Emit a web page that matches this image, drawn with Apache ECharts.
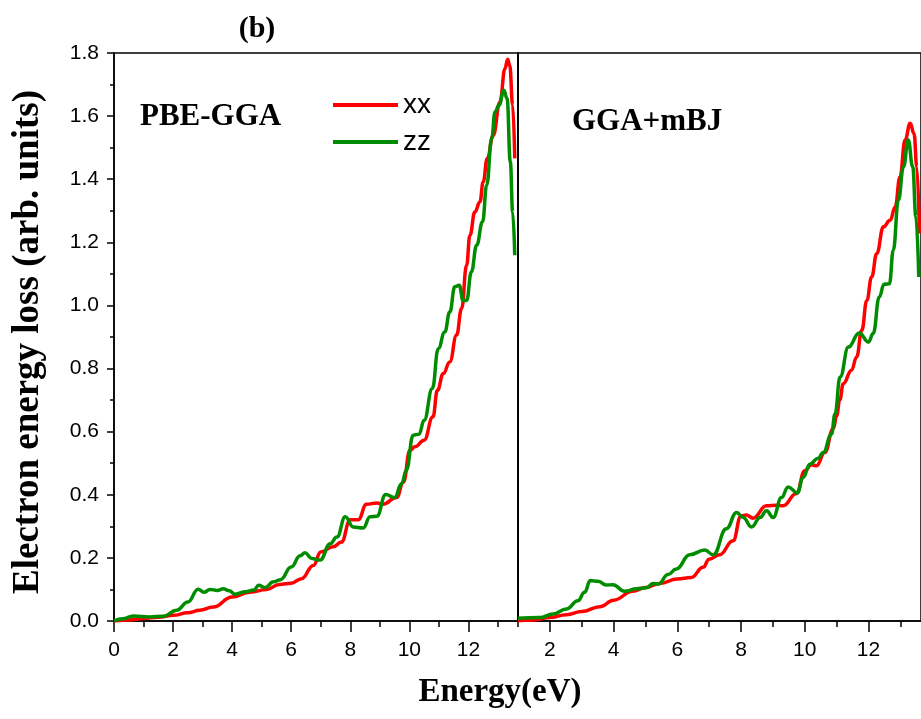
<!DOCTYPE html>
<html>
<head>
<meta charset="utf-8">
<script src="https://cdn.jsdelivr.net/npm/echarts@6/dist/echarts.min.js"></script>
<style>
  html, body { margin: 0; padding: 0; background: #fff; }
  #chart { width: 921px; height: 719px; }
</style>
</head>
<body>
<div id="chart"></div>
<script>
const SERIF = "'Liberation Serif', 'Times New Roman', serif"
const SANS = "'Liberation Sans', Arial, sans-serif"

// PBE-GGA panel (left)
const pbeXxE = [0, 0.5, 1, 1.5, 2, 2.5, 2.9, 3.36, 4, 4.6, 5.17, 5.6, 6, 6.35, 6.75, 7.0, 7.42, 7.7, 8.0, 8.27, 8.55, 8.9, 9.1, 9.57, 9.8, 10.02, 10.19, 10.5, 10.8, 10.95, 11.15, 11.37, 11.6, 11.77, 11.94, 12.05, 12.22, 12.39, 12.5, 12.64, 12.84, 13.07, 13.24, 13.33, 13.4, 13.5, 13.57]
const pbeXxV = [0, 0.003, 0.008, 0.012, 0.018, 0.026, 0.034, 0.044, 0.076, 0.091, 0.1, 0.116, 0.12, 0.134, 0.176, 0.219, 0.235, 0.25, 0.321, 0.321, 0.37, 0.374, 0.37, 0.391, 0.44, 0.541, 0.552, 0.573, 0.647, 0.731, 0.784, 0.821, 0.906, 0.99, 1.127, 1.222, 1.296, 1.328, 1.391, 1.466, 1.539, 1.645, 1.751, 1.78, 1.761, 1.635, 1.466]
const pbeZzE = [0, 0.3, 0.65, 1.2, 1.67, 2.12, 2.5, 2.85, 3.05, 3.25, 3.5, 3.7, 3.9, 4.1, 4.45, 4.74, 4.9, 5.12, 5.4, 5.64, 6.0, 6.3, 6.47, 6.7, 6.98, 7.32, 7.55, 7.83, 8.1, 8.44, 8.67, 8.9, 9.2, 9.5, 9.74, 9.9, 10.13, 10.33, 10.5, 10.78, 10.98, 11.2, 11.37, 11.54, 11.69, 11.82, 11.94, 12.1, 12.28, 12.48, 12.62, 12.79, 12.9, 13.04, 13.2, 13.31, 13.42, 13.5, 13.57]
const pbeZzV = [0, 0.007, 0.016, 0.013, 0.015, 0.034, 0.06, 0.101, 0.091, 0.1, 0.097, 0.102, 0.096, 0.085, 0.093, 0.098, 0.113, 0.106, 0.124, 0.131, 0.171, 0.207, 0.216, 0.198, 0.193, 0.245, 0.266, 0.33, 0.298, 0.295, 0.33, 0.332, 0.401, 0.391, 0.435, 0.478, 0.589, 0.592, 0.636, 0.737, 0.863, 0.916, 0.979, 1.059, 1.064, 1.016, 1.016, 1.106, 1.191, 1.265, 1.381, 1.529, 1.613, 1.635, 1.682, 1.656, 1.455, 1.296, 1.159]

// GGA+mBJ panel (right)
const mbjXxE = [1, 1.47, 2, 2.52, 3, 3.57, 4, 4.6, 5, 5.45, 6, 6.44, 6.81, 7.0, 7.33, 7.75, 8.0, 8.17, 8.38, 8.8, 9.12, 9.32, 9.74, 10.0, 10.21, 10.37, 10.63, 10.9, 11.0, 11.1, 11.21, 11.47, 11.63, 11.79, 11.95, 12.1, 12.26, 12.47, 12.68, 12.84, 12.99, 13.15, 13.31, 13.43, 13.52, 13.6]
const mbjXxV = [0.001, 0.003, 0.011, 0.02, 0.03, 0.045, 0.066, 0.094, 0.106, 0.119, 0.133, 0.138, 0.17, 0.196, 0.21, 0.254, 0.333, 0.336, 0.326, 0.365, 0.367, 0.365, 0.404, 0.476, 0.495, 0.492, 0.534, 0.61, 0.65, 0.7, 0.752, 0.795, 0.837, 0.921, 1.016, 1.09, 1.164, 1.249, 1.27, 1.312, 1.407, 1.524, 1.577, 1.545, 1.439, 1.228]
const mbjZzE = [1, 1.68, 2.1, 2.52, 2.88, 3.09, 3.27, 3.51, 3.77, 3.98, 4.35, 4.72, 5.03, 5.24, 5.4, 5.71, 5.97, 6.39, 6.86, 7.13, 7.54, 7.86, 8.07, 8.33, 8.6, 8.8, 9.01, 9.27, 9.48, 9.77, 9.95, 10.16, 10.42, 10.58, 10.84, 10.95, 11.11, 11.37, 11.71, 12.0, 12.15, 12.34, 12.49, 12.66, 12.78, 12.94, 13.1, 13.25, 13.39, 13.49, 13.58]
const mbjZzV = [0.009, 0.011, 0.022, 0.038, 0.064, 0.091, 0.128, 0.126, 0.114, 0.115, 0.094, 0.102, 0.105, 0.119, 0.117, 0.147, 0.165, 0.21, 0.225, 0.21, 0.292, 0.344, 0.328, 0.298, 0.328, 0.349, 0.328, 0.391, 0.425, 0.406, 0.455, 0.497, 0.516, 0.534, 0.592, 0.656, 0.773, 0.868, 0.913, 0.884, 0.911, 1.027, 1.067, 1.069, 1.175, 1.333, 1.439, 1.524, 1.439, 1.281, 1.09]

const majorTicks = [0, 2, 4, 6, 8, 10, 12]
const minorTicksLeft = [1, 3, 5, 7, 9, 11, 13]
const majorTicksRight = [2, 4, 6, 8, 10, 12]
const minorTicksRight = [1, 3, 5, 7, 9, 11, 13]

const pair = (xs, ys) => xs.map((x, i) => [x, ys[i]])

function xAxisFor(grid, min, max, ticks, labels, len, showLine) {
  return {
    type: 'value', gridIndex: grid, min, max, position: 'bottom',
    axisLine: { show: showLine, onZero: false, lineStyle: { color: '#000', width: 1.5 } },
    axisTick: { show: true, inside: false, length: len, customValues: ticks, lineStyle: { color: '#000', width: 1.5 } },
    axisLabel: labels
      ? { show: true, customValues: ticks, margin: 19, color: '#000', fontSize: 21, fontFamily: SANS }
      : { show: false },
    splitLine: { show: false },
  }
}

function lineSeries(name, color, data, axis) {
  return {
    name, type: 'line', data,
    xAxisIndex: axis, yAxisIndex: axis,
    showSymbol: false, symbol: 'none',
    smooth: 0.45, smoothMonotone: 'x',
    color,
    lineStyle: { color, width: 3.5 },
    z: name === 'zz' ? 3 : 2,
  }
}

const chart = echarts.init(document.getElementById('chart'), null, { renderer: 'canvas' })

chart.setOption({
  backgroundColor: '#fff',
  animation: false,
  grid: [
    { left: 114, top: 53, width: 404, height: 568, show: true, borderColor: '#000', borderWidth: 1.5 },
    { left: 518, top: 53, width: 405, height: 568, show: true, borderColor: '#000', borderWidth: 1.5 },
  ],
  legend: {
    orient: 'vertical', left: 328, top: 86,
    itemWidth: 65, itemHeight: 4, itemGap: 9,
    icon: 'rect',
    textStyle: { fontSize: 28, fontFamily: SANS, color: '#000' },
    data: ['xx', 'zz'],
  },
  xAxis: [
    xAxisFor(0, 0, 13.68, majorTicks, true, 11, true),
    xAxisFor(0, 0, 13.68, minorTicksLeft, false, 6, false),
    xAxisFor(1, 1, 13.65, majorTicksRight, true, 11, true),
    xAxisFor(1, 1, 13.65, minorTicksRight, false, 6, false),
  ],
  yAxis: [
    {
      type: 'value', gridIndex: 0, min: 0, max: 1.8, interval: 0.2,
      axisLine: { show: true, lineStyle: { color: '#000', width: 1.5 } },
      axisTick: { show: true, length: 7, lineStyle: { color: '#000', width: 1.5 } },
      minorTick: { show: true, splitNumber: 2, length: 4, lineStyle: { color: '#000', width: 1.5 } },
      axisLabel: { color: '#000', fontSize: 21, fontFamily: SANS, margin: 15, formatter: v => v.toFixed(1) },
      splitLine: { show: false },
    },
    {
      type: 'value', gridIndex: 1, min: 0, max: 1.8,
      axisLine: { show: true, lineStyle: { color: '#000', width: 1.5 } },
      axisTick: { show: false }, axisLabel: { show: false }, splitLine: { show: false },
    },
  ],
  graphic: [
    { type: 'text', x: 257, y: 29, style: { text: '(b)', font: `bold 30px ${SERIF}`, fill: '#000', align: 'center', verticalAlign: 'middle' } },
    { type: 'text', x: 140, y: 117, style: { text: 'PBE-GGA', font: `bold 31px ${SERIF}`, fill: '#000', verticalAlign: 'middle' } },
    { type: 'text', x: 572, y: 122, style: { text: 'GGA+mBJ', font: `bold 31px ${SERIF}`, fill: '#000', verticalAlign: 'middle' } },
    { type: 'text', x: 500, y: 692, style: { text: 'Energy(eV)', font: `bold 33px ${SERIF}`, fill: '#000', align: 'center', verticalAlign: 'middle' } },
    {
      type: 'text', x: 28, y: 342, rotation: Math.PI / 2,
      style: { text: 'Electron energy loss (arb. units)', font: `bold 37px ${SERIF}`, fill: '#000', align: 'center', verticalAlign: 'middle' },
    },
  ],
  series: [
    lineSeries('xx', '#ff0000', pair(pbeXxE, pbeXxV), 0),
    lineSeries('zz', '#008c00', pair(pbeZzE, pbeZzV), 0),
    { ...lineSeries('xx', '#ff0000', pair(mbjXxE, mbjXxV), 2), yAxisIndex: 1 },
    { ...lineSeries('zz', '#008c00', pair(mbjZzE, mbjZzV), 2), yAxisIndex: 1 },
  ],
})
</script>
</body>
</html>
